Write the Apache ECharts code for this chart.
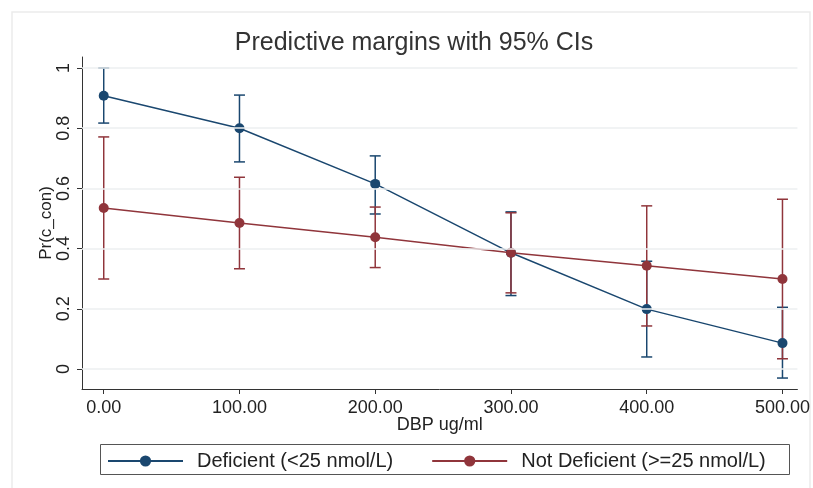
<!DOCTYPE html>
<html>
<head>
<meta charset="utf-8">
<script src="https://cdn.jsdelivr.net/npm/echarts@6/dist/echarts.min.js"></script>
<style>
html,body{margin:0;padding:0;background:#fff;}
#c{width:813px;height:488px;}
</style>
</head>
<body>
<div id="c"></div>
<script>
// ---- data ----
var xVals = [0, 100, 200, 300, 400, 500];
var xTicks = [0, 100, 200, 300, 400, 500];
var yTicks = [0, 0.2, 0.4, 0.6, 0.8, 1];
var defMean = [0.908, 0.800, 0.615, 0.386, 0.199, 0.086];
var defLo   = [0.817, 0.688, 0.515, 0.244, 0.040, -0.030];
var defHi   = [1.000, 0.910, 0.708, 0.522, 0.358, 0.205];
var ndMean  = [0.535, 0.485, 0.438, 0.386, 0.343, 0.299];
var ndLo    = [0.299, 0.333, 0.337, 0.253, 0.143, 0.034];
var ndHi    = [0.771, 0.637, 0.538, 0.519, 0.542, 0.564];

var BLUE = '#1a476f', RED = '#90353b';
var FONT = 'Liberation Sans, Arial, sans-serif';

function pairs(xs, ys) { return xs.map(function (x, i) { return [x, ys[i]]; }); }
function ciData(xs, lo, hi) { return xs.map(function (x, i) { return [x, lo[i], hi[i]]; }); }

function ciRender(color) {
  return function (params, api) {
    var x = api.value(0);
    var pLo = api.coord([x, api.value(1)]);
    var pHi = api.coord([x, api.value(2)]);
    var hw = 5.5;
    var st = { stroke: color, lineWidth: 1.5, fill: null };
    return {
      type: 'group',
      children: [
        { type: 'line', shape: { x1: pLo[0], y1: pLo[1], x2: pHi[0], y2: pHi[1] }, style: st },
        { type: 'line', shape: { x1: pLo[0] - hw, y1: pLo[1], x2: pLo[0] + hw, y2: pLo[1] }, style: st },
        { type: 'line', shape: { x1: pHi[0] - hw, y1: pHi[1], x2: pHi[0] + hw, y2: pHi[1] }, style: st }
      ]
    };
  };
}

var chart = echarts.init(document.getElementById('c'), null, { renderer: 'canvas' });
chart.setOption({
  backgroundColor: '#fff',
  animation: false,
  textStyle: { fontFamily: FONT },
  title: {
    text: 'Predictive margins with 95% CIs',
    left: 414, top: 31, textAlign: 'center', padding: 0,
    textStyle: { fontFamily: FONT, fontSize: 25, fontWeight: 'normal', color: '#333' }
  },
  graphic: [
    { type: 'rect', shape: { x: 12, y: 12, width: 798, height: 520 }, style: { fill: null, stroke: '#ebebeb', lineWidth: 1.5 }, silent: true, z: -10 },
    { type: 'rect', shape: { x: 100.5, y: 444.5, width: 689, height: 30 }, style: { fill: '#fff', stroke: '#555', lineWidth: 1 }, silent: true, z: -5 }
  ],
  legend: {
    left: 107, top: 451, padding: 0,
    itemWidth: 75, itemHeight: 14, itemGap: 38,
    textStyle: { fontFamily: FONT, fontSize: 20, color: '#222', padding: [0, 0, 0, 9] },
    data: ['Deficient (<25 nmol/L)', 'Not Deficient (>=25 nmol/L)']
  },
  grid: { left: 82, right: 13, top: 57, bottom: 99, containLabel: false },
  xAxis: {
    type: 'value', min: -16, max: 511,
    name: 'DBP ug/ml', nameLocation: 'middle', nameGap: 27, nameMoveOverlap: false,
    nameTextStyle: { fontFamily: FONT, fontSize: 18, color: '#222' },
    axisLine: { show: true, onZero: false, lineStyle: { color: '#333', width: 1 } },
    axisTick: { show: true, inside: false, length: 5, customValues: xTicks, lineStyle: { color: '#333' } },
    axisLabel: { customValues: xTicks, margin: 10, fontSize: 18, color: '#222', fontFamily: FONT,
      formatter: function (v) { return v.toFixed(2); } },
    splitLine: { show: false }
  },
  yAxis: {
    type: 'value', min: -0.0664, max: 1.0365,
    name: 'Pr(c_con)', nameLocation: 'middle', nameGap: 27, nameRotate: 90, nameMoveOverlap: false,
    nameTextStyle: { fontFamily: FONT, fontSize: 17, color: '#222' },
    axisLine: { show: true, onZero: false, lineStyle: { color: '#333', width: 1 } },
    axisTick: { show: true, inside: false, length: 5, customValues: yTicks, lineStyle: { color: '#333' } },
    axisLabel: { customValues: yTicks, rotate: 90, margin: 9, fontSize: 18, color: '#222', fontFamily: FONT,
      formatter: function (v) { return String(Math.round(v * 10) / 10); } },
    splitLine: { show: false }
  },
  series: [
    {
      type: 'custom', name: 'ciDef', renderItem: ciRender(BLUE), data: ciData(xVals, defLo, defHi),
      encode: { x: 0, y: [1, 2] }, silent: true,
      markLine: {
        silent: true, symbol: 'none', label: { show: false },
        lineStyle: { color: '#eceff0', width: 1.5, type: 'solid' },
        data: yTicks.map(function (v) { return { yAxis: v }; })
      }
    },
    { type: 'custom', name: 'ciND', renderItem: ciRender(RED), data: ciData(xVals, ndLo, ndHi), encode: { x: 0, y: [1, 2] }, silent: true },
    {
      type: 'line', name: 'Deficient (<25 nmol/L)', data: pairs(xVals, defMean),
      symbol: 'circle', symbolSize: 10, color: BLUE,
      lineStyle: { color: BLUE, width: 1.5 }, itemStyle: { color: BLUE }
    },
    {
      type: 'line', name: 'Not Deficient (>=25 nmol/L)', data: pairs(xVals, ndMean),
      symbol: 'circle', symbolSize: 10, color: RED,
      lineStyle: { color: RED, width: 1.5 }, itemStyle: { color: RED }
    }
  ]
});
</script>
</body>
</html>
